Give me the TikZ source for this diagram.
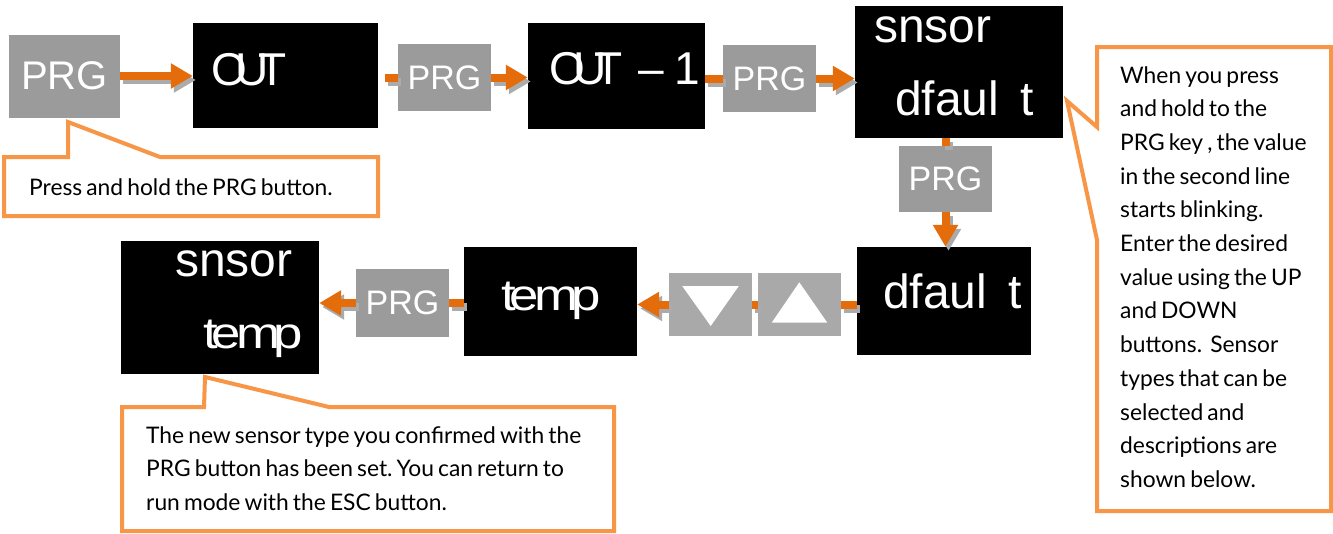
\documentclass[tikz,border=0pt]{standalone}
\usepackage{fontspec}
\usepackage{graphicx}
\setmainfont{Lato}[WordSpace=0.7]
\newfontfamily\dispfont{Liberation Sans}
\usetikzlibrary{arrows.meta}
\frenchspacing

\definecolor{prggray}{HTML}{9B9B9B}
\definecolor{keygray}{HTML}{A9A9A9}
\definecolor{flowor}{HTML}{E46C0A}
\definecolor{shadowgray}{HTML}{ABABAB}
\definecolor{calloutor}{HTML}{F79646}

\tikzset{
  lcd/.style={fill=black, draw=none, inner sep=0pt},
  prgkey/.style={fill=prggray, inner sep=0pt, minimum width=93pt, minimum height=67pt,
    text=white, font=\dispfont\fontsize{34}{34}\selectfont},
  arrowkey/.style={fill=keygray, inner sep=0pt, minimum width=83pt, minimum height=63pt},
  lcdtext/.style={text=white, inner sep=0pt, anchor=base west,
    font=\dispfont\fontsize{46}{46}\selectfont},
  lcdwide/.style={lcdtext, font=\dispfont\fontsize{48}{48}\selectfont},
  flowline/.style={draw=flowor, line width=8pt},
  flowarrow/.style={flowline, -{Triangle[length=22pt,width=24pt]}},
  flowshadow/.style={draw=shadowgray, transform canvas={shift={(3pt,-4pt)}}},
  callout/.style={draw=calloutor, line width=4pt, fill=white, line join=miter},
  notefont/.style={font=\fontsize{22.8}{33.7}\selectfont},
  note/.style={notefont, inner sep=0pt, anchor=north west, align=left},
}

\begin{document}
\begin{tikzpicture}[x=1pt, y=-1pt]
  \useasboundingbox (0,0) rectangle (1333,533);

  % callout boxes (drawn first so the display boxes sit on top)
  \draw[callout] (4,157) -- (68,157) -- (68,122) -- (160,157) -- (378,157)
    -- (378,216) -- (4,216) -- cycle;
  \draw[callout] (122,407) -- (204,407) -- (205,377) -- (329,407) -- (614,407)
    -- (614,531) -- (122,531) -- cycle;
  \draw[callout] (1097,47) -- (1331,47) -- (1331,511) -- (1097,511) -- (1097,240)
    -- (1067,101) -- (1097,127) -- cycle;

  % keys and display panels
  \node[prgkey, minimum width=111pt, minimum height=83pt,
        font=\dispfont\fontsize{40}{40}\selectfont] (prg1) at (64.5,76) {PRG};
  \node[lcd, minimum width=185pt, minimum height=105pt] (out) at (285.5,75.5) {};
  \node[prgkey] (prg2) at (444.5,77.5) {PRG};
  \node[lcd, minimum width=177pt, minimum height=106pt] (out1) at (616.5,76) {};
  \node[prgkey] (prg3) at (769.5,78.5) {PRG};
  \node[lcd, minimum width=208pt, minimum height=132pt] (sd) at (959,72) {};
  \node[prgkey, minimum height=66pt] (prg4) at (945.5,179) {PRG};
  \node[lcd, minimum width=174pt, minimum height=108pt] (df2) at (944,301) {};
  \node[arrowkey] (up) at (799.5,304.5) {};
  \node[arrowkey] (down) at (710.5,304.5) {};
  \node[lcd, minimum width=173pt, minimum height=109pt] (temp) at (550.5,301.5) {};
  \node[prgkey, minimum height=68pt] (prg5) at (402.5,303) {PRG};
  \node[lcd, minimum width=198pt, minimum height=133pt] (st) at (220,307.5) {};

  % up / down glyphs
  \fill[white] ([shift={(-28.3,-18.5)}]down.center) -- ([shift={(28.3,-18.5)}]down.center)
    -- ([shift={(0.2,21.5)}]down.center) -- cycle;
  \fill[white] ([shift={(-0.2,-22.2)}]up.center) -- ([shift={(27.8,18.2)}]up.center)
    -- ([shift={(-27.8,18.2)}]up.center) -- cycle;

  % display texts
  \node[lcdtext] (tout) at (211,85) {O\kern-11pt U\kern-11pt T};
  \node[lcdtext] (tout1) at (549,84) {O\kern-12pt U\kern-12pt T\kern16pt–\kern11pt 1};
  \node[lcdwide] (tsn1) at (874,42) {snsor};
  \node[lcdwide] (tdf1) at (895,115) {dfaul\kern8pt\ t};
  \node[lcdwide] (tdf2) at (883,308) {dfaul\kern8pt\ t};
  \node[lcdtext, font=\dispfont\fontsize{44}{44}\selectfont] (ttemp) at (501,310)
    {\scalebox{1.2}[1]{t\kern-5pt e\kern-4pt m\kern-6pt p}};
  \node[lcdwide] (tsn2) at (175,276) {snsor};
  \node[lcdtext, font=\dispfont\fontsize{44}{44}\selectfont] (ttemp2) at (203,348)
    {\scalebox{1.2}[1]{t\kern-5pt e\kern-4pt m\kern-6pt p}};

  % flow connectors: grey drop shadow first, orange on top
  \foreach \sty in {flowshadow,}{
    \draw[flowarrow,\sty] (prg1.east) -- (prg1.east -| out.west);
    \draw[flowline,\sty,shorten <=7pt] (prg2.west -| out.east) -- (prg2.west);
    \draw[flowarrow,\sty] (prg2.east) -- (prg2.east -| out1.west);
    \draw[flowline,\sty] (prg3.west -| out1.east) -- (prg3.west);
    \draw[flowarrow,\sty] (prg3.east) -- (prg3.east -| sd.west);
    \draw[flowline,\sty] (prg4.north |- sd.south) -- (prg4.north);
    \draw[flowarrow,\sty] (prg4.south) -- (prg4.south |- df2.north);
    \draw[flowline,\sty] (up.east -| df2.west) -- (up.east);
    \draw[flowline,\sty] (up.west) -- (down.east);
    \draw[flowarrow,\sty] (down.west) -- (down.west -| temp.east);
    \draw[flowline,\sty] (prg5.east -| temp.west) -- (prg5.east);
    \draw[flowarrow,\sty] (prg5.west) -- (prg5.west -| st.east);
  }

  % callout texts
  \node[notefont, inner sep=0pt, anchor=base west]
    (n1) at (29,195) {Press and hold the PRG button.};
  \node[note] (n2) at (146,426) {The new sensor type you confirmed with the\\
    PRG button has been set. You can return to\\
    run mode with the ESC button.};
  \node[note] (n3) at (1120,66) {When you press\\ and hold to the\\
    PRG key , the value\\ in the second line\\ starts blinking.\\
    Enter the desired\\ value using the UP\\ and DOWN\\
    buttons.\ \ Sensor\\ types that can be\\ selected and\\
    descriptions are\\ shown below.};
\end{tikzpicture}
\end{document}
